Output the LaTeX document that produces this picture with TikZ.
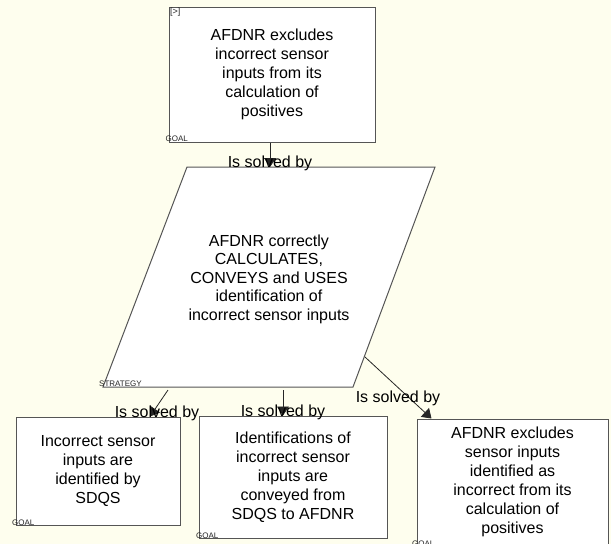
\documentclass[tikz,border=0pt]{standalone}
\usepackage{fontspec}
\setmainfont{Liberation Sans}
\usetikzlibrary{arrows.meta}
\definecolor{bgcream}{RGB}{254,254,238}
\definecolor{edgegray}{RGB}{85,85,85}
\tikzset{
  goalbox/.style={draw=edgegray, line width=1pt, fill=white, align=center, inner sep=2pt,
    font=\fontsize{16}{19}\selectfont},
  stratshape/.style={draw=edgegray, line width=1pt, fill=white},
  strattext/.style={align=center, font=\fontsize{16}{18.5}\selectfont},
  conn/.style={draw=black!85, line width=0.8pt, -{Triangle[width=12pt,length=9pt]}},
  lbl/.style={font=\fontsize{16}{19}\selectfont, inner sep=0pt, anchor=base},
  tag/.style={font=\fontsize{8}{9}\selectfont, text=black!85, inner sep=0pt, anchor=base west}
}
\begin{document}
\begin{tikzpicture}[x=1pt,y=-1pt]
\fill[bgcream] (0,0) rectangle (611,544);
\useasboundingbox (0,0) rectangle (611,544);

% top goal
\node[goalbox, minimum width=206pt, minimum height=135pt] (g0) at (272,74.5)
  {AFDNR excludes\\incorrect sensor\\inputs from its\\calculation of\\positives};
\node[tag, anchor=north west, font=\fontsize{9}{10}\selectfont] (g0mark) at (170,8) {[>]};
\node[tag] (g0tag) at (165.5,141) {GOAL};

% strategy parallelogram
\coordinate (pTL) at (187,167);
\coordinate (pTR) at (435,167);
\coordinate (pBR) at (353,387);
\coordinate (pBL) at (103,387);
\draw[stratshape] (pTL) -- (pTR) -- (pBR) -- (pBL) -- cycle;
\node[strattext] (s0) at (269,279)
  {AFDNR correctly\\CALCULATES,\\CONVEYS and USES\\identification of\\incorrect sensor inputs};
\node[tag] (s0tag) at (99,386) {STRATEGY};

% bottom goals
\node[goalbox, minimum width=164pt, minimum height=108pt] (g1) at (98,471)
  {Incorrect sensor\\inputs are\\identified by\\SDQS};
\node[tag] (g1tag) at (12,525) {GOAL};
\node[goalbox, minimum width=188pt, minimum height=122pt] (g2) at (293,477)
  {Identifications of\\incorrect sensor\\inputs are\\conveyed from\\SDQS to AFDNR};
\node[tag] (g2tag) at (196,538) {GOAL};
\node[goalbox, minimum width=191pt, minimum height=126pt] (g3) at (512.5,482)
  {AFDNR excludes\\sensor inputs\\identified as\\incorrect from its\\calculation of\\positives};
\node[tag] (g3tag) at (412,546) {GOAL};

% connectors
\coordinate (sA) at (168,390);
\coordinate (sB) at (283,390);
\coordinate (sC) at (365,357);
\draw[conn] ([xshift=-2pt]g0.south) -- ([xshift=-2pt]g0.south |- pTL);
\draw[conn] (sA) -- ([xshift=52pt]g1.north);
\draw[conn] (sB) -- (sB |- g2.north);
\draw[conn] (sC) -- ([xshift=15pt]g3.north west);

% labels
\node[lbl] (l0) at (270,167) {Is solved by};
\node[lbl] (l1) at (157,417) {Is solved by};
\node[lbl] (l2) at (283,416) {Is solved by};
\node[lbl] (l3) at (398,402) {Is solved by};
\end{tikzpicture}
\end{document}
